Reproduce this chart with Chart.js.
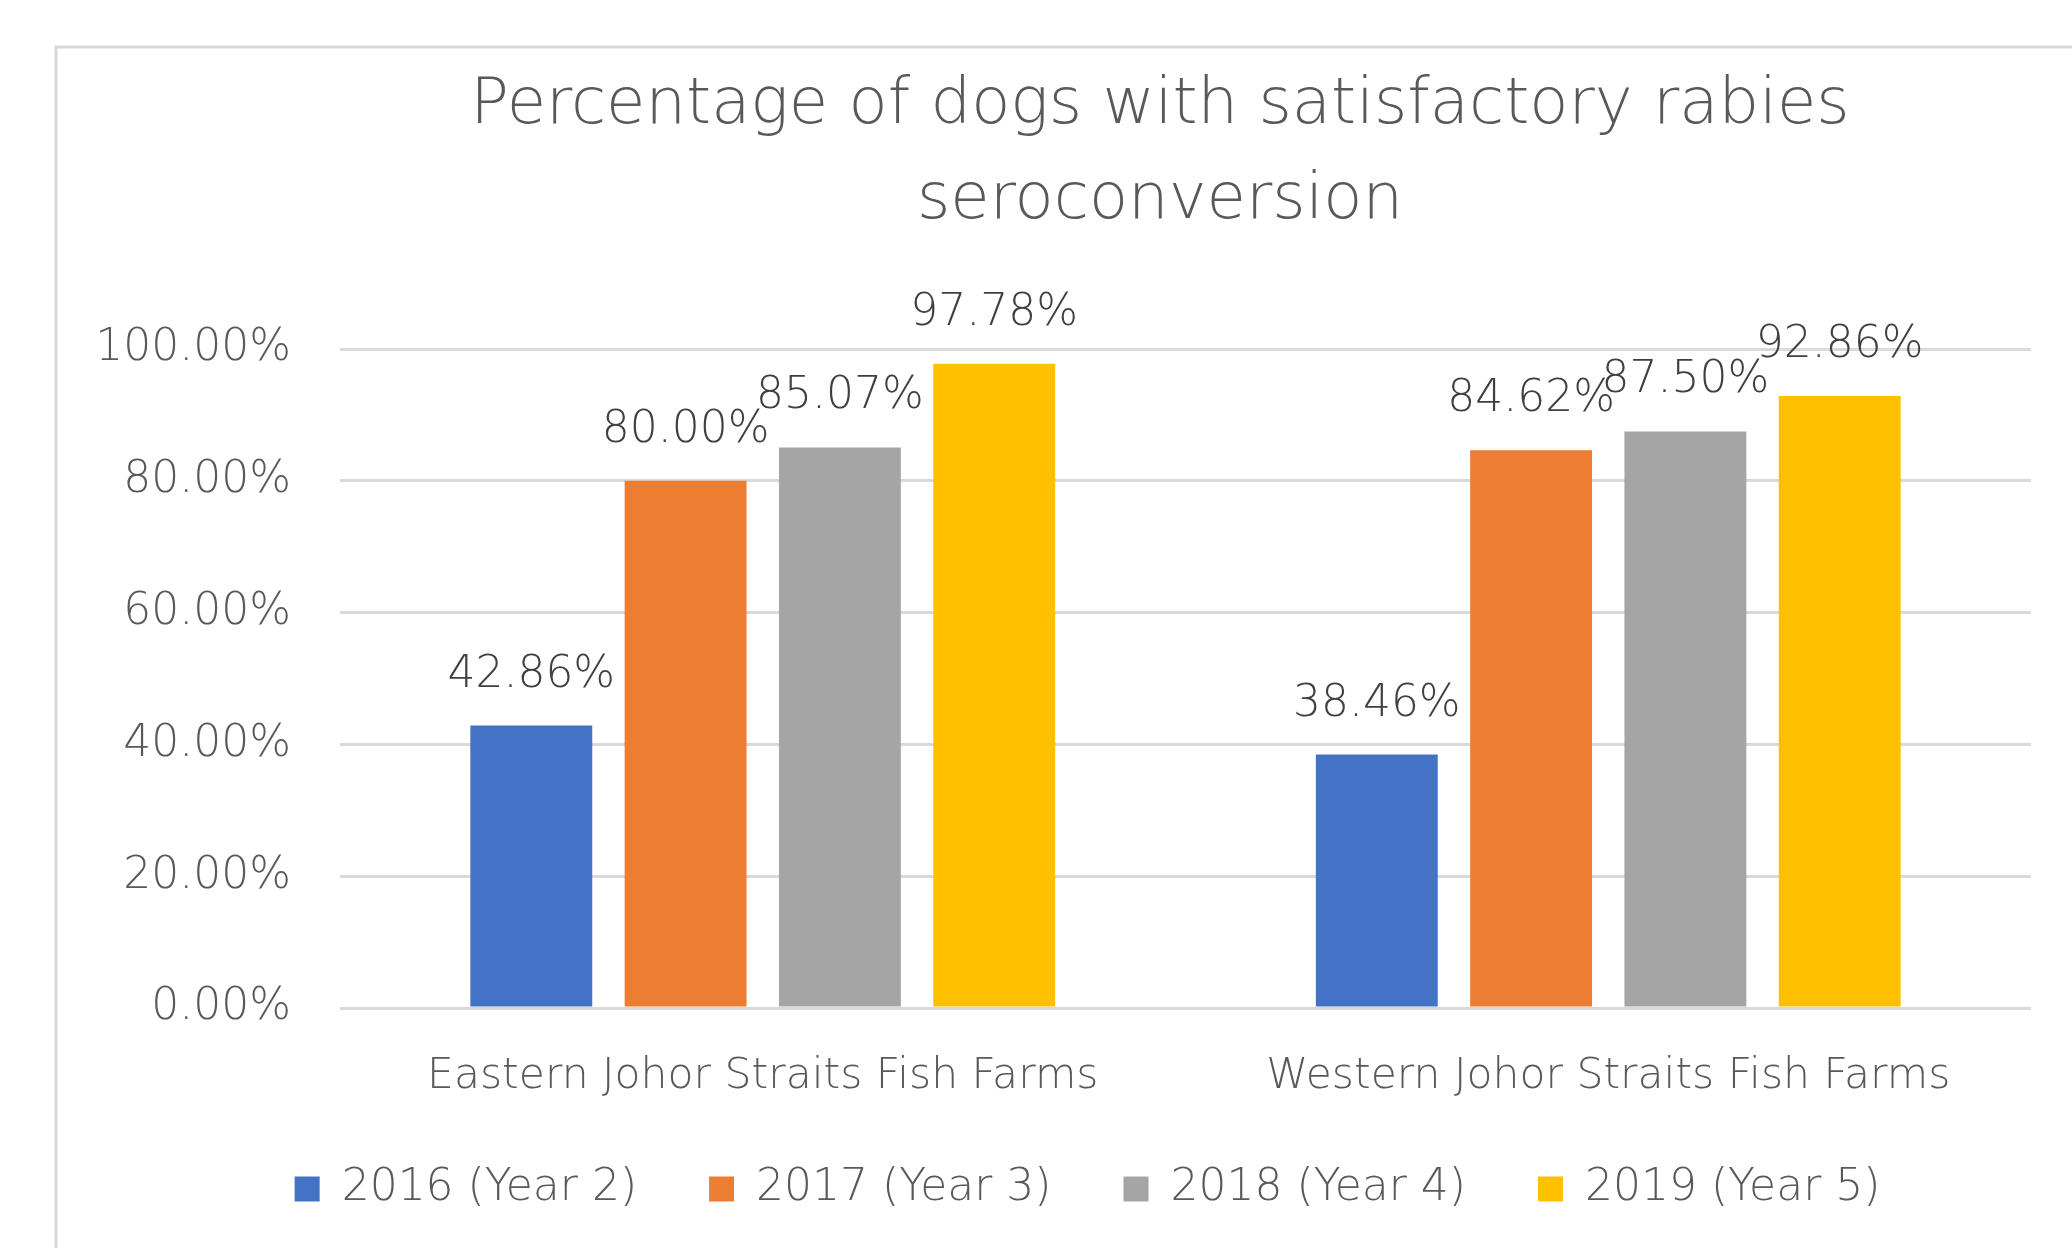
<!DOCTYPE html>
<html>
<head>
<meta charset="utf-8">
<script src="https://cdn.jsdelivr.net/npm/chart.js@4/dist/chart.umd.min.js"></script>
<style>
  html, body { margin: 0; padding: 0; background: #fff; }
  #wrap { position: absolute; left: 0; top: 0; width: 2072px; height: 1248px; }
</style>
</head>
<body>
<div id="wrap"><canvas id="c" width="2072" height="1248"></canvas></div>
<script>
const categories = ["Eastern Johor Straits Fish Farms", "Western Johor Straits Fish Farms"];
const seriesNames = ["2016 (Year 2)", "2017 (Year 3)", "2018 (Year 4)", "2019 (Year 5)"];
const values2016 = [42.86, 38.46];
const values2017 = [80.00, 84.62];
const values2018 = [85.07, 87.50];
const values2019 = [97.78, 92.86];
const yTicks = [0, 20, 40, 60, 80, 100];
const titleLines = ["Percentage of dogs with satisfactory rabies", "seroconversion"];
const colors = ["#4472C4", "#ED7D31", "#A5A5A5", "#FFC000"];

const FONT = "'DejaVu Sans', sans-serif";

const framePlugin = {
  id: 'frame',
  beforeDraw(chart) {
    const ctx = chart.ctx;
    ctx.save();
    ctx.fillStyle = '#fff';
    ctx.fillRect(0, 0, chart.width, chart.height);
    ctx.strokeStyle = '#d9d9d9';
    ctx.lineWidth = 3;
    ctx.beginPath();
    ctx.moveTo(56, chart.height);
    ctx.lineTo(56, 47);
    ctx.lineTo(chart.width, 47);
    ctx.stroke();
    ctx.restore();
    // shift the legend so it sits where the reference has it
    const lg = chart.legend;
    if (lg && !lg._shifted) {
      const dx = 42, dy = -13;
      lg.left += dx; lg.right += dx;
      lg.top += dy; lg.bottom += dy;
      lg._shifted = true;
    }
  }
};

const titlePlugin = {
  id: 'customTitle',
  afterDraw(chart) {
    const ctx = chart.ctx;
    ctx.save();
    ctx.font = "300 64px " + FONT;
    ctx.fillStyle = '#595959';
    ctx.textAlign = 'center';
    ctx.textBaseline = 'middle';
    ctx.fillText(titleLines[0], 1160, 106);
    ctx.fillText(titleLines[1], 1160, 201);
    ctx.restore();
  }
};

const labelPlugin = {
  id: 'barLabels',
  afterDatasetsDraw(chart) {
    const ctx = chart.ctx;
    ctx.save();
    ctx.font = "300 44px " + FONT;
    ctx.fillStyle = '#404040';
    ctx.textAlign = 'center';
    ctx.textBaseline = 'alphabetic';
    chart.data.datasets.forEach((ds, i) => {
      const meta = chart.getDatasetMeta(i);
      meta.data.forEach((bar, j) => {
        ctx.fillText(ds.data[j].toFixed(2) + '%', bar.x, bar.y - 39);
      });
    });
    ctx.restore();
  }
};

const allValues = [values2016, values2017, values2018, values2019];

new Chart(document.getElementById('c'), {
  type: 'bar',
  data: {
    labels: categories,
    datasets: seriesNames.map((n, i) => ({
      label: n,
      data: allValues[i],
      backgroundColor: colors[i],
      borderWidth: 0,
      categoryPercentage: 0.73,
      barPercentage: 0.79
    }))
  },
  options: {
    responsive: false,
    animation: false,
    devicePixelRatio: 1,
    layout: { padding: { left: 60, right: 41, top: 349, bottom: 14 } },
    scales: {
      x: {
        grid: { display: false },
        border: { display: false },
        afterFit(axis) { axis.height = 100; },
        ticks: { color: '#595959', font: { family: FONT, size: 42.5, weight: '300' }, padding: 35 }
      },
      y: {
        min: 0, max: 100,
        afterBuildTicks(axis) { axis.ticks = yTicks.map(v => ({ value: v })); },
        afterFit(axis) { axis.width = 280; },
        grid: { color: '#d9d9d9', lineWidth: 3, drawTicks: false },
        border: { display: false },
        ticks: {
          color: '#595959',
          font: { family: FONT, size: 44, weight: '300' },
          padding: 49,
          callback: v => v.toFixed(2) + '%'
        }
      }
    },
    plugins: {
      title: { display: false },
      legend: {
        position: 'bottom',
        labels: {
          color: '#595959',
          font: { family: FONT, size: 44, weight: '300' },
          boxWidth: 25, boxHeight: 25,
          padding: 72
        }
      },
      tooltip: { enabled: false }
    }
  },
  plugins: [framePlugin, labelPlugin, titlePlugin]
});
</script>
</body>
</html>
